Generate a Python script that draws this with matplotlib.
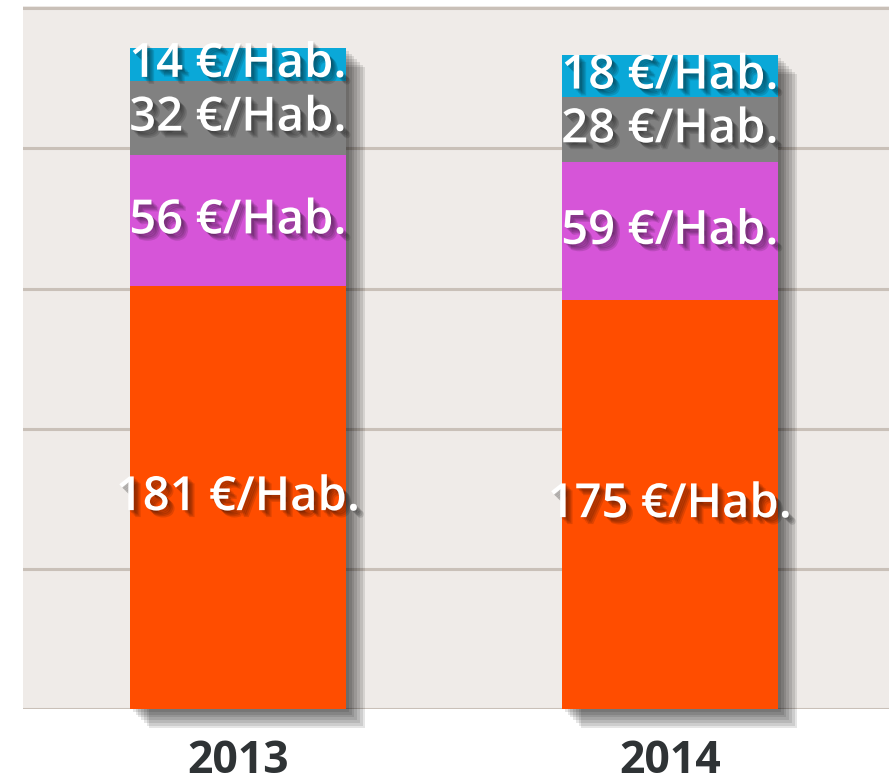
import matplotlib
matplotlib.use("Agg")
import matplotlib.pyplot as plt
import matplotlib.patheffects as pe
import numpy as np

# dados (€/habitante) por ano
anos = ["2013", "2014"]
laranja = [181, 175]
magenta = [56, 59]
cinza = [32, 28]
azul = [14, 18]

series = [laranja, magenta, cinza, azul]
cores = ["#FF4D00", "#D655D8", "#818181", "#0AA8D8"]

fig = plt.figure(figsize=(8.89, 7.84), dpi=100)
ax = fig.add_axes([23 / 889, 75 / 784, 866 / 889, 703 / 784])
ax.set_facecolor("#EFEBE8")

x = np.arange(len(anos))
largura = 0.5

# sombra da barra inteira (desfocada em degraus)
totais = np.sum(series, axis=0)
sombra = [pe.SimplePatchShadow(offset=(d, -d), shadow_rgbFace="black", alpha=0.1)
          for d in (2, 4, 6, 8, 10, 12, 14)]
ax.bar(x, totais, largura, color=cores[0], zorder=2, path_effects=sombra, clip_on=False)

base = np.zeros(len(anos))
sombra_txt = [pe.SimplePatchShadow(offset=(d, -d), shadow_rgbFace="black", alpha=0.12)
              for d in (1, 2, 3, 4, 5)] + [pe.Normal()]
for valores, cor in zip(series, cores):
    ax.bar(x, valores, largura, bottom=base, color=cor, zorder=3)
    for xi, b, v in zip(x, base, valores):
        ax.text(xi, b + v / 2, f"{v} €/Hab.", ha="center", va="center",
                color="white", fontsize=34, family="Open Sans", weight="semibold",
                zorder=4, path_effects=sombra_txt)
    base = base + np.array(valores)

ax.set_xlim(-0.4977, 1.507)
ax.set_ylim(0, 301)
ax.set_yticks([0, 60, 120, 180, 240, 300])
ax.yaxis.grid(True, color="#C9C0B8", linewidth=2.2)
ax.set_axisbelow(True)
ax.tick_params(left=False, labelleft=False, bottom=False, labelbottom=False)
for s in ax.spines.values():
    s.set_visible(False)

for xi, ano in zip(x, anos):
    ax.text(xi, -0.091, ano, transform=ax.get_xaxis_transform(), ha="center",
            va="baseline", fontsize=32, family="Open Sans", weight="bold",
            color="#2F3335")

fig.savefig("out.png", dpi=100)
